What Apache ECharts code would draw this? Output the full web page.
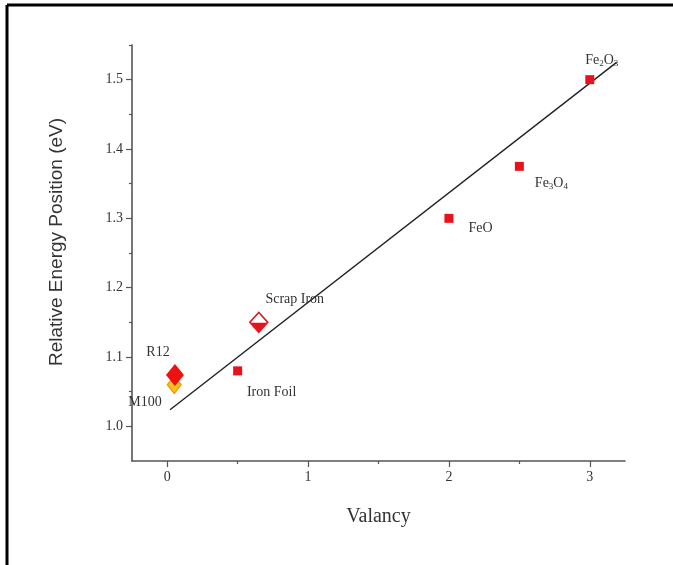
<!DOCTYPE html>
<html><head><meta charset="utf-8">
<script src="https://cdn.jsdelivr.net/npm/echarts@6/dist/echarts.min.js"></script>
<style>html,body{margin:0;padding:0;background:#fff}#c{width:673px;height:565px}</style>
</head><body><div id="c"></div>
<script>
// Reference oxides (red squares)
const oxideNames = ['Fe2O3', 'Fe3O4', 'FeO', 'Iron Foil'];
const oxideX = [3, 2.5, 2, 0.5];
const oxideY = [1.5, 1.375, 1.3, 1.08];
// Samples (diamonds)
const scrapX = [0.65], scrapY = [1.15];
const r12X = [0.055], r12Y = [1.074];
const m100X = [0.05], m100Y = [1.06];
// Linear fit line endpoints
const fitX = [0.02, 3.19];
const fitY = [1.024, 1.525];
// Ticks
const xTicks = [0, 1, 2, 3];
const xMinorTicks = [0.5, 1.5, 2.5];
const yTicks = [1.0, 1.1, 1.2, 1.3, 1.4, 1.5];
const yMinorTicks = [1.05, 1.15, 1.25, 1.35, 1.45, 1.55];

const chart = echarts.init(document.getElementById('c'));
const serif = 'Liberation Serif';
const txt = '#333';
const rich = {
  a: {fontFamily: serif, fontSize: 14, color: txt},
  s: {fontFamily: serif, fontSize: 9, color: txt, padding: [7, 0, 0, 0]}
};
function fmtName(n) {
  if (n === 'Fe2O3') return '{a|Fe}{s|2}{a|O}{s|3}';
  if (n === 'Fe3O4') return '{a|Fe}{s|3}{a|O}{s|4}';
  return '{a|' + n + '}';
}
const labelPos = {
  'Fe2O3': {position: 'top', offset: [12, -2]},
  'Fe3O4': {position: 'right', offset: [6, 17]},
  'FeO': {position: 'right', offset: [10, 10]},
  'Iron Foil': {position: 'bottom', offset: [34, 5]}
};
const oxideData = oxideNames.map((n, i) => ({
  value: [oxideX[i], oxideY[i]], name: n,
  label: Object.assign({show: true, formatter: fmtName(n), rich: rich}, labelPos[n])
}));
const red = '#e8121c';
const axisColor = '#555';

chart.setOption({
  animation: false,
  backgroundColor: '#fff',
  grid: {left: 132, right: 48, top: 45, bottom: 104},
  xAxis: [{
    type: 'value', min: -0.25, max: 3.25, interval: 0.25,
    name: 'Valancy', nameLocation: 'middle', nameGap: 46,
    nameTextStyle: {fontFamily: serif, fontSize: 20, color: txt},
    axisLine: {show: true, onZero: false, lineStyle: {color: axisColor, width: 1.6}},
    axisTick: {show: true, inside: false, length: 6, lineStyle: {color: axisColor, width: 1.2}, customValues: xTicks},
    axisLabel: {fontFamily: serif, fontSize: 14, color: txt, margin: 9, customValues: xTicks},
    splitLine: {show: false}
  }, {
    type: 'value', min: -0.25, max: 3.25, position: 'bottom', gridIndex: 0,
    axisLine: {show: false, onZero: false},
    axisTick: {show: true, inside: false, length: 3, lineStyle: {color: axisColor, width: 1.2}, customValues: xMinorTicks},
    axisLabel: {show: false}, splitLine: {show: false}
  }],
  yAxis: [{
    type: 'value', min: 0.95, max: 1.55, interval: 0.05,
    name: 'Relative Energy Position (eV)', nameLocation: 'middle', nameGap: 66,
    nameTextStyle: {fontFamily: 'Liberation Sans', fontSize: 19, color: '#333', padding: [0, 0, 0, 22]},
    axisLine: {show: true, onZero: false, lineStyle: {color: axisColor, width: 1.6}},
    axisTick: {show: true, inside: false, length: 6, lineStyle: {color: axisColor, width: 1.2}, customValues: yTicks},
    axisLabel: {fontFamily: serif, fontSize: 14, color: txt, margin: 9, customValues: yTicks,
      formatter: v => v.toFixed(1)},
    splitLine: {show: false}
  }, {
    type: 'value', min: 0.95, max: 1.55, position: 'left',
    axisLine: {show: false, onZero: false},
    axisTick: {show: true, inside: false, length: 3, lineStyle: {color: axisColor, width: 1.2}, customValues: yMinorTicks},
    axisLabel: {show: false}, splitLine: {show: false}
  }],
  graphic: [
    {type: 'line', shape: {x1: 7, y1: 5, x2: 673, y2: 5}, style: {stroke: '#000', lineWidth: 3}},
    {type: 'line', shape: {x1: 7, y1: 5, x2: 7, y2: 565}, style: {stroke: '#000', lineWidth: 3}}
  ],
  series: [
    {
      type: 'line', data: fitX.map((x, i) => [x, fitY[i]]), symbol: 'none',
      lineStyle: {color: '#222', width: 1.4}, z: 2
    },
    {
      type: 'scatter', data: oxideData, symbol: 'rect', symbolSize: 9,
      itemStyle: {color: red, opacity: 1}, z: 3
    },
    {
      type: 'scatter', data: scrapX.map((x, i) => [x, scrapY[i]]), symbol: 'diamond', symbolSize: [18, 20],
      itemStyle: {color: '#fff', borderColor: red, borderWidth: 1.5, opacity: 1}, z: 3,
      label: {show: true, position: 'top', offset: [36, 0], formatter: '{a|Scrap Iron}', rich: rich}
    },
    {
      type: 'scatter', data: scrapX.map((x, i) => [x, scrapY[i]]),
      symbol: 'path://M0,0 L2,0 L1,1 Z', symbolSize: [17, 9], symbolOffset: [0, 5],
      itemStyle: {color: red, opacity: 1}, z: 4, silent: true
    },
    {
      type: 'scatter', data: m100X.map((x, i) => [x, m100Y[i]]), symbol: 'diamond', symbolSize: [14, 18],
      itemStyle: {color: '#f7c21a', borderColor: '#f08a10', borderWidth: 1, opacity: 1}, z: 3,
      label: {show: true, position: 'left', offset: [0, 18], formatter: '{a|M100}', rich: rich}
    },
    {
      type: 'scatter', data: r12X.map((x, i) => [x, r12Y[i]]), symbol: 'diamond', symbolSize: [18, 22],
      itemStyle: {color: '#ee1111', opacity: 1}, z: 4,
      label: {show: true, position: 'top', offset: [-17, 0], formatter: '{a|R12}', rich: rich}
    }
  ]
});
</script></body></html>
